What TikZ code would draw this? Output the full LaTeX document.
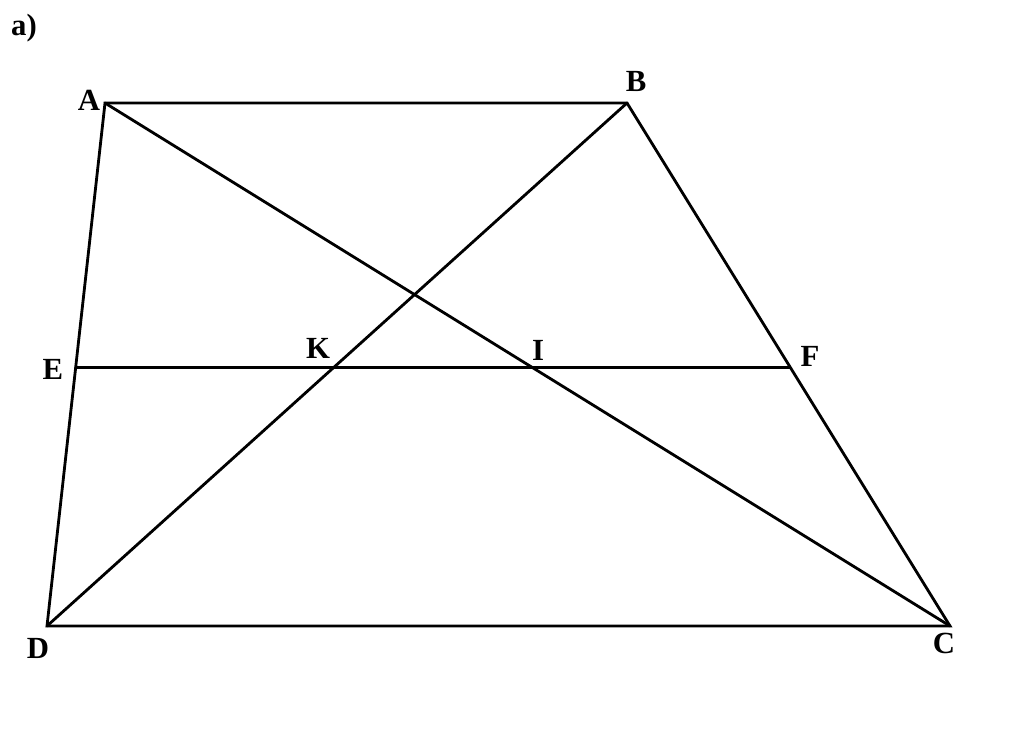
\documentclass[tikz,border=0pt]{standalone}
\usepackage{fontspec}
\setmainfont{Liberation Serif}
\usetikzlibrary{calc}
\tikzset{pt/.style={font=\fontsize{17.5}{20}\selectfont\bfseries, inner sep=0pt},
  seg/.style={line width=1.6pt, line cap=round, line join=miter}}

\begin{document}
\begin{tikzpicture}[x=0.02cm,y=-0.02cm]
      \useasboundingbox (0,0) rectangle (1024,730);
      \coordinate (A) at (105,103);
      \coordinate (B) at (627,103);
      \coordinate (C) at (950,626);
      \coordinate (D) at (47,626);
      \coordinate (E) at ($(A)!0.505!(D)$);
      \coordinate (F) at ($(B)!0.505!(C)$);
      \coordinate (K) at ($(B)!0.505!(D)$);
      \coordinate (I) at ($(A)!0.505!(C)$);

      \draw[seg] (A) -- (B) -- (C) -- (D) -- cycle;
      \draw[seg] (A) -- (C);
      \draw[seg] (B) -- (D);
      \draw[seg] (E) -- (F);

      \node [pt] (title) at (24,28) {a)};
      \node [pt] (lA) at (89,100) {A};
      \node [pt] (lB) at (636,81) {B};
      \node [pt] (lC) at (944,643) {C};
      \node [pt] (lD) at (38,648) {D};
      \node [pt] (lE) at (53,369) {E};
      \node [pt] (lF) at (810,356) {F};
      \node [pt] (lK) at (318,348) {K};
      \node [pt] (lI) at (538,350) {I};
    \end{tikzpicture}
\end{document}
